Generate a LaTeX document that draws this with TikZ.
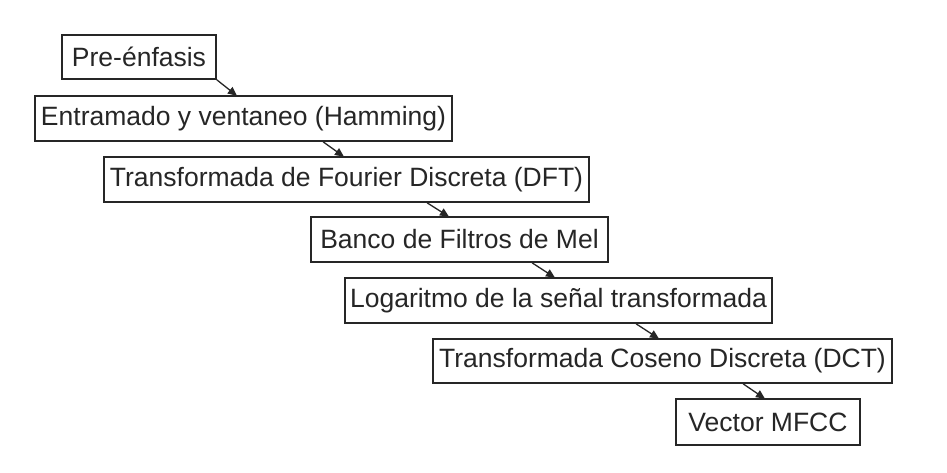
\documentclass[tikz,border=0pt]{standalone}
\usepackage{fontspec}
\setmainfont{Liberation Sans}
\usetikzlibrary{calc,arrows.meta}
\tikzset{
  stepbox/.style={draw=black!85, line width=1.7pt, inner sep=0pt, font=\fontsize{26.5}{30}\selectfont, text=black!85},
  arr/.style={draw=black!85, line width=1.3pt, -{Triangle[length=9pt,width=8pt]}, shorten >=-1pt}
}
\begin{document}
\begin{tikzpicture}[x=1pt,y=-1pt]
\fill[white] (0,0) rectangle (947,472);
\useasboundingbox (0,0) rectangle (947,472);
\node[stepbox, minimum width=154pt, minimum height=44pt] (b1) at (139,57) {Pre-énfasis};
\node[stepbox, minimum width=417pt, minimum height=45pt] (b2) at (243.5,118.5) {Entramado y ventaneo (Hamming)};
\node[stepbox, minimum width=485pt, minimum height=45pt] (b3) at (346.5,179.5) {Transformada de Fourier Discreta (DFT)};
\node[stepbox, minimum width=297pt, minimum height=45pt] (b4) at (459.5,239.5) {Banco de Filtros de Mel};
\node[stepbox, minimum width=427pt, minimum height=45pt] (b5) at (558.5,300.5) {Logaritmo de la señal transformada};
\node[stepbox, minimum width=459pt, minimum height=44pt] (b6) at (662.5,361) {Transformada Coseno Discreta (DCT)};
\node[stepbox, minimum width=184pt, minimum height=46pt] (b7) at (768,422) {Vector MFCC};
\draw[arr] (b1.south east) -- ($(b2.north west)+(202,0)$);
\draw[arr] ($(b2.south west)+(289,0)$) -- ($(b3.north west)+(240,0)$);
\draw[arr] ($(b3.south west)+(324,0)$) -- ($(b4.north west)+(138,0)$);
\draw[arr] ($(b4.south west)+(222,0)$) -- ($(b5.north west)+(210,0)$);
\draw[arr] ($(b5.south west)+(292,0)$) -- ($(b6.north west)+(226,0)$);
\draw[arr] ($(b6.south west)+(311,0)$) -- ($(b7.north west)+(89,0)$);
\end{tikzpicture}
\end{document}
